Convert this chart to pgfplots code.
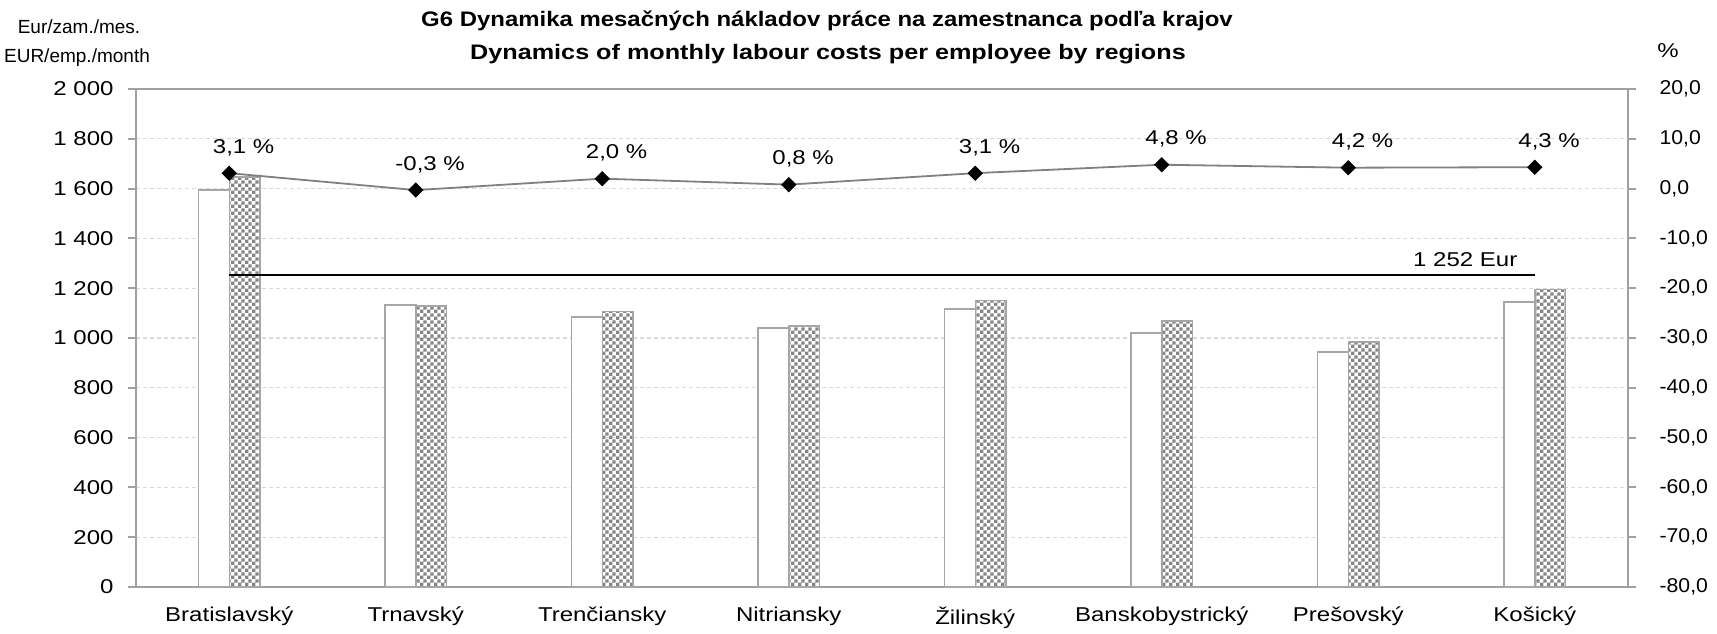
\documentclass[border=0pt]{standalone}
\usepackage{fontspec}
\setmainfont{Liberation Sans}
\usepackage{pgfplots}
\pgfplotsset{compat=1.18}
\usetikzlibrary{patterns.meta}

\definecolor{AxisGray}{HTML}{A0A0A0}
\definecolor{GridGray}{HTML}{D9D9D9}
\definecolor{BarEdge}{HTML}{A6A6A6}
\definecolor{LineGray}{HTML}{808080}
\definecolor{CheckGray}{HTML}{858585}

% small checkerboard, like the Excel fill
\pgfdeclarepattern{
  name=smallcheck, type=uncolored,
  bottom left={\pgfpoint{0pt}{0pt}}, top right={\pgfpoint{3.4pt}{3.4pt}},
  tile size={\pgfpoint{3.4pt}{3.4pt}},
  code={
    \pgfpathrectangle{\pgfpoint{0pt}{0pt}}{\pgfpoint{1.7pt}{1.7pt}}
    \pgfpathrectangle{\pgfpoint{1.7pt}{1.7pt}}{\pgfpoint{1.7pt}{1.7pt}}
    \pgfusepath{fill}
  }
}

\newcommand{\lbl}{\fontsize{10}{12}\selectfont}

\pgfplotsset{
  chartbase/.style={
    scale only axis,
    width=746pt, height=249pt,
    at={(68pt,23pt)}, anchor=south west,
    xmin=-0.5, xmax=7.5,
    axis line style={AxisGray,line width=1pt},
    tick style={AxisGray,line width=1pt},
    tick align=outside,
    major tick length=4pt,
    /pgf/number format/assume math mode=true,
  }
}

\begin{document}
\begin{tikzpicture}
\useasboundingbox (0,0) rectangle (858.5pt,316.5pt);

\begin{axis}[
  chartbase,
  tick label style={font=\lbl,xscale=1.2},
  ymin=0, ymax=2000,
  ytick={0,200,...,2000},
  ytick pos=left,
  yticklabel style={xshift=-2.5pt},
  xtick={0,...,7},
  xticklabels={Bratislavský,Trnavský,Trenčiansky,Nitriansky,Žilinský,Banskobystrický,Prešovský,Košický},
  major x tick style={draw=none},
  xticklabel style={yshift=-2.5pt},
  ymajorgrids,
  major grid style={GridGray,line width=0.6pt,dash pattern=on 2pt off 1.5pt},
  yticklabel={\pgfmathprintnumber[fixed,precision=0,1000 sep={\ }]{\tick}},
]
\addplot[ybar,bar width=0.166,bar shift=-0.083,draw=BarEdge,line width=0.75pt,fill=white]
  coordinates {(0,1594) (1,1133) (2,1084) (3,1040) (4,1116) (5,1020) (6,944) (7,1145)};
\addplot[ybar,bar width=0.166,bar shift=0.083,draw=BarEdge,line width=0.75pt,pattern=smallcheck,pattern color=CheckGray]
  coordinates {(0,1647) (1,1129) (2,1106) (3,1048) (4,1150) (5,1069) (6,984) (7,1194)};
% average for Slovakia
\addplot[black,line width=1pt] coordinates {(0,1252) (7,1252)};
\node[font=\lbl,xscale=1.2,anchor=base east] at ([xshift=-4.5pt,yshift=4.5pt]axis cs:7,1252) {1 252 Eur};
\end{axis}

\begin{axis}[
  chartbase,
  ymin=-80, ymax=20,
  ytick={-80,-70,...,20},
  axis y line*=right,
  axis x line=none,
  yticklabel style={font=\lbl,xscale=1.06,xshift=7.6pt},
  yticklabel={\pgfmathprintnumber[fixed,fixed zerofill,precision=1,use comma]{\tick}},
  point meta=explicit symbolic,
  nodes near coords,
  every node near coord/.style={font=\lbl,xscale=1.2,anchor=base,xshift=6pt,yshift=10pt,text=black},
]
\addplot[LineGray,line width=0.9pt,mark=square*,mark size=2.5pt,
  mark options={rotate=45,fill=black,draw=black,line width=0.4pt}]
  coordinates {(0,3.1) [3,1 \%] (1,-0.3) [-0,3 \%] (2,2.0) [2,0 \%] (3,0.8) [0,8 \%]
               (4,3.1) [3,1 \%] (5,4.8) [4,8 \%] (6,4.2) [4,2 \%] (7,4.3) [4,3 \%]};
\end{axis}

\node[font=\bfseries\fontsize{10.5}{12}\selectfont,xscale=1.14] at (413.5pt,306pt)
  {G6 Dynamika mesačných nákladov práce na zamestnanca podľa krajov};
\node[font=\bfseries\fontsize{10.5}{12}\selectfont,xscale=1.2] at (414pt,289.5pt)
  {Dynamics of monthly labour costs per employee by regions};
\node[font=\fontsize{9.5}{11}\selectfont] at (39.5pt,303pt) {Eur/zam./mes.};
\node[font=\fontsize{9.5}{11}\selectfont] at (38.5pt,287.5pt) {EUR/emp./month};
\node[font=\lbl,xscale=1.2] at (834pt,291pt) {\%};
\end{tikzpicture}
\end{document}
